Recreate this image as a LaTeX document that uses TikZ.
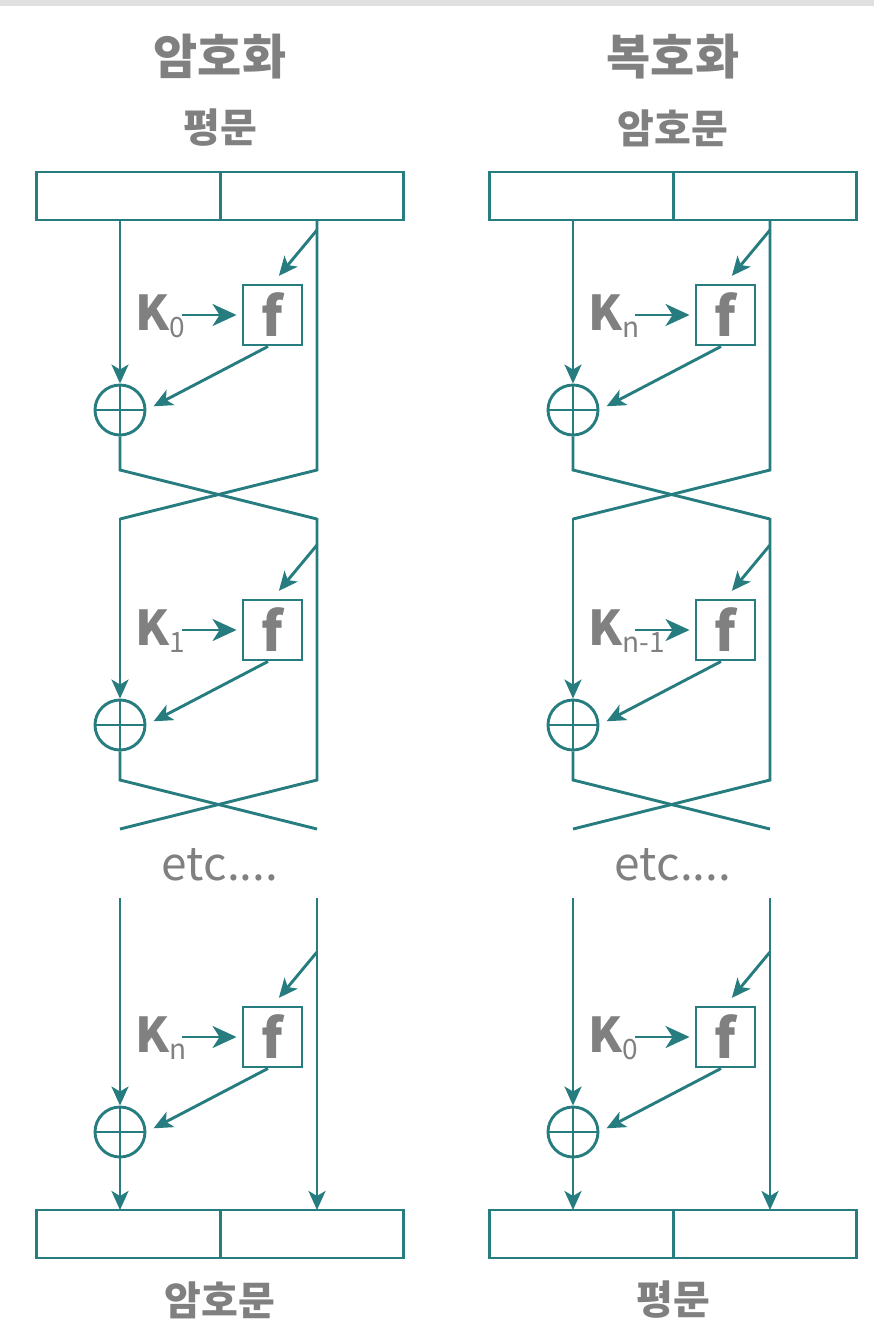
\documentclass[tikz,border=0pt]{standalone}
\usepackage{fontspec}
\setmainfont{Noto Sans CJK KR}
\usetikzlibrary{arrows.meta}
\definecolor{feistel}{RGB}{38,124,127}
\definecolor{label}{RGB}{128,128,128}
\tikzset{
  wire/.style={draw=feistel, line width=1.45pt},
  flow/.style={wire, -{Stealth[length=9.5pt,width=8.5pt,inset=2.5pt]}},
  keyflow/.style={wire, -{Stealth[length=12pt,width=11pt,inset=3.5pt]}},
  half/.style={wire, minimum width=91.75pt, minimum height=24pt, inner sep=0pt},
  fbox/.style={wire, minimum width=29.5pt, minimum height=30pt, inner sep=0pt,
    text=label, font=\bfseries\fontsize{27}{27}\selectfont},
  xor/.style={wire, circle, minimum size=25pt, inner sep=0pt,
    path picture={\draw[feistel, line width=1.3pt]
      (path picture bounding box.west) -- (path picture bounding box.east)
      (path picture bounding box.north) -- (path picture bounding box.south);}},
  head/.style={text=label, font=\bfseries\fontsize{24}{24}\selectfont},
  sub/.style={text=label, font=\bfseries\fontsize{20}{20}\selectfont},
  key/.style={text=label, anchor=base west, inner sep=0pt},
  etc/.style={text=label, font=\fontsize{23}{23}\selectfont}
}
\begin{document}
\begin{tikzpicture}[x=0.5pt, y=-0.5pt]
\useasboundingbox (0,0) rectangle (874,1324);
\fill[black!12] (0,0) rectangle (874,6);
\foreach \c/\ox/\title/\intext/\outtext/\ka/\kb/\kc in
  {e/0/암호화/평문/암호문/0/1/n, d/453/복호화/암호문/평문/n/n-1/0}{
  \node[head] (\c-head) at (\ox+220,57) {\title};
  \node[sub] (\c-in) at (\ox+220,128) {\intext};
  \node[half] (\c-inL) at (\ox+128.5,196) {};
  \node[half] (\c-inR) at (\ox+312,196) {};
  \node[etc] (\c-etc) at (\ox+220,865) {etc....};
  \node[half] (\c-outL) at (\ox+128.5,1234) {};
  \node[half] (\c-outR) at (\ox+312,1234) {};
  \node[sub] (\c-out) at (\ox+220,1300) {\outtext};
  \foreach \r/\fy/\k/\top/\bot in
    {1/315/\ka/220/470, 2/630/\kb/518/780, 3/1037/\kc/898/1210}{
    \node[fbox] (\c-f\r) at (\ox+272.5,\fy) {f};
    \node[xor] (\c-x\r) at (\ox+120,\fy+95) {};
    \node[key] (\c-K\r) at (\ox+135,\fy+15)
      {{\bfseries\fontsize{24}{24}\selectfont K}\raisebox{-3.5pt}{\fontsize{14}{14}\selectfont\k}};
    \coordinate (\c-k\r) at (\ox+182,\fy);
    \coordinate (\c-tap\r) at (\ox+317,\fy-85);
    \coordinate (\c-lt\r) at (\ox+120,\top);
    \coordinate (\c-rt\r) at (\ox+317,\top);
    \coordinate (\c-lb\r) at (\ox+120,\bot);
    \coordinate (\c-rb\r) at (\ox+317,\bot);
    \draw[keyflow, shorten >=2.5pt] (\c-k\r) -- (\c-f\r.west);
    \draw[flow, shorten >=5pt] (\c-tap\r) -- (\c-f\r.north);
    \draw[flow, shorten >=4pt] ([xshift=-2.25pt]\c-f\r.south) -- (\c-x\r.east);
    \draw[flow] (\c-lt\r) -- (\c-x\r.north);
    \ifnum\r<3
      \draw[wire] (\c-x\r.south) -- (\c-lb\r) -- ++(197,49);
      \draw[wire] (\c-rt\r) -- (\c-rb\r) -- ++(-197,49);
    \else
      \draw[flow] (\c-x\r.south) -- (\c-lb\r);
      \draw[flow] (\c-rt\r) -- (\c-rb\r);
    \fi
  }
}
\end{tikzpicture}
\end{document}
